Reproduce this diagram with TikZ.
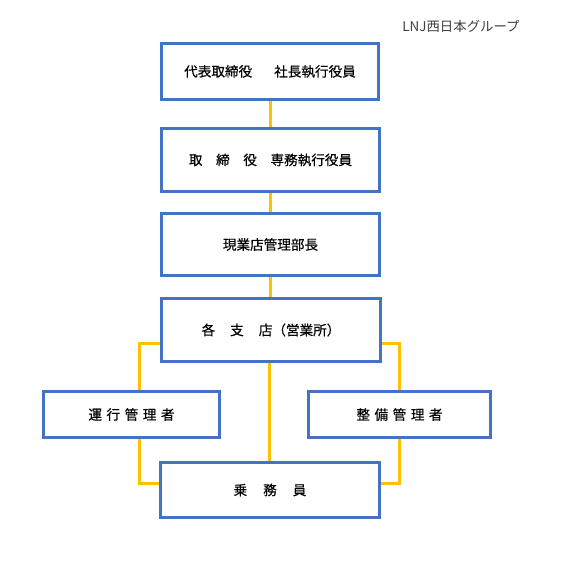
\documentclass[tikz,border=0pt]{standalone}
\usepackage{fontspec}
\setmainfont{Noto Sans CJK JP}[FakeBold=0.4]
\newfontfamily\titlefont{Noto Sans CJK JP}
\usetikzlibrary{backgrounds}
\definecolor{boxblue}{HTML}{4472C4}
\definecolor{linkyellow}{HTML}{FFC000}
\begin{document}
\begin{tikzpicture}[x=1pt,y=-1pt,
  box/.style={draw=boxblue,line width=3pt,fill=white,inner sep=0pt,
    font=\fontsize{13.6}{15}\selectfont,text=black},
  link/.style={draw=linkyellow,line width=3pt}]
\useasboundingbox (0,0) rectangle (565,563);
\node[box,minimum width=217pt,minimum height=56pt] (b1) at (270,71.5) {代表取締役\hspace{22pt}社長執行役員};
\node[box,minimum width=218pt,minimum height=63pt] (b2) at (270.5,160) {取　締　役　専務執行役員};
\node[box,minimum width=218pt,minimum height=62pt] (b3) at (270.5,244.5) {現業店管理部長};
\node[box,minimum width=219pt,minimum height=63pt] (b4) at (271,330) {各\hspace{15pt}支\hspace{15pt}店（営業所）};
\node[box,minimum width=176pt,minimum height=46pt] (b5) at (131.5,414.5) {運\,\,行\,\,管\,\,理\,\,者};
\node[box,minimum width=182pt,minimum height=46pt] (b6) at (399.5,414.5) {整\,\,備\,\,管\,\,理\,\,者};
\node[box,minimum width=219pt,minimum height=55pt] (b7) at (270,490) {乗\hspace{16pt}務\hspace{16pt}員};
\node[font=\titlefont\fontsize{13.4}{15}\selectfont,text=black!75,inner sep=0pt] (title) at (461,26) {LNJ西日本グループ};
\begin{scope}[on background layer]
\fill[white] (0,0) rectangle (565,563);
\draw[link] (b1.south) -- (b1.south |- b2.north);
\draw[link] (b2.south) -- (b2.south |- b3.north);
\draw[link] (b3.south) -- (b3.south |- b4.north);
\draw[link] ([xshift=-2pt]b4.south) -- ([xshift=-2pt]b4.south |- b7.north);
\draw[link] ([yshift=-13pt]b4.west) -| ([xshift=7.5pt]b5.north);
\draw[link] ([xshift=7.5pt]b5.south) |- ([yshift=7pt]b7.west);
\draw[link] ([yshift=-13pt]b4.east) -| (b6.north);
\draw[link] (b6.south) |- ([yshift=7pt]b7.east);
\end{scope}
\end{tikzpicture}
\end{document}
